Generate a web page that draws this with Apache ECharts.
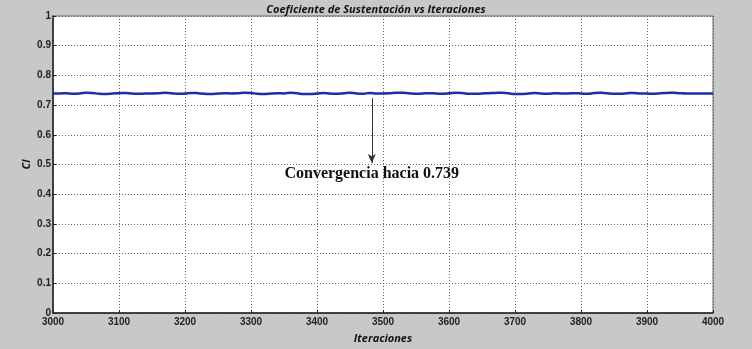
<!DOCTYPE html>
<html><head><meta charset="utf-8">
<script src="https://cdn.jsdelivr.net/npm/echarts@6/dist/echarts.min.js"></script>
<style>html,body{margin:0;padding:0;background:#c8c8c8;}#c{width:752px;height:349px;}</style>
</head><body><div id="c"></div>
<script>
const iterations = [3000,3010,3020,3030,3040,3050,3060,3070,3080,3090,3100,3110,3120,3130,3140,3150,3160,3170,3180,3190,3200,3210,3220,3230,3240,3250,3260,3270,3280,3290,3300,3310,3320,3330,3340,3350,3360,3370,3380,3390,3400,3410,3420,3430,3440,3450,3460,3470,3480,3490,3500,3510,3520,3530,3540,3550,3560,3570,3580,3590,3600,3610,3620,3630,3640,3650,3660,3670,3680,3690,3700,3710,3720,3730,3740,3750,3760,3770,3780,3790,3800,3810,3820,3830,3840,3850,3860,3870,3880,3890,3900,3910,3920,3930,3940,3950,3960,3970,3980,3990,4000];
const clValues = [.739,.739,.740,.738,.739,.742,.741,.738,.737,.739,.740,.741,.739,.738,.739,.739,.740,.742,.740,.738,.739,.741,.740,.738,.737,.739,.740,.739,.740,.742,.741,.738,.737,.739,.740,.739,.742,.740,.737,.737,.739,.741,.739,.738,.740,.742,.739,.738,.741,.739,.739,.740,.742,.742,.740,.738,.739,.740,.739,.738,.740,.742,.741,.738,.738,.739,.740,.741,.742,.740,.737,.737,.739,.741,.739,.738,.740,.739,.739,.740,.739,.738,.741,.742,.740,.738,.738,.740,.741,.739,.739,.738,.740,.741,.742,.740,.739,.739,.739,.739,.739];
const annotation = {x: 3483, yTop: 0.723, yBottom: 0.505, yText: 0.47, text: 'Convergencia hacia 0.739'};
const titleText = 'Coeficiente de Sustentación vs Iteraciones';

const chart = echarts.init(document.getElementById('c'));
const labelStyle = {color:'#222', fontFamily:'Liberation Sans, Arial', fontSize:10, fontWeight:'bold'};
chart.setOption({
  backgroundColor:'#c8c8c8',
  animation:false,
  title:{text:titleText, left:'center', top:-1, textStyle:{fontFamily:'Open Sans', fontStyle:'italic', fontWeight:'bold', fontSize:11, color:'#111'}},
  grid:{left:53, right:39, top:16, bottom:33, show:true, backgroundColor:'#fff', borderColor:'#666', borderWidth:1},
  xAxis:{type:'value', min:3000, max:4000, interval:100,
    name:'Iteraciones', nameLocation:'middle', nameGap:20, nameMoveOverlap:false,
    nameTextStyle:{fontFamily:'Open Sans', fontStyle:'italic', fontWeight:'bold', fontSize:11, color:'#111'},
    axisLine:{show:true, lineStyle:{color:'#222', width:1.5}},
    axisTick:{show:true, inside:true, length:3, lineStyle:{color:'#222'}},
    axisLabel:Object.assign({margin:4, formatter:v=>String(v)}, labelStyle),
    splitLine:{show:true, lineStyle:{type:[1,2], color:'#666', width:1}}},
  yAxis:{type:'value', min:0, max:1, interval:0.1,
    name:'Cl', nameLocation:'middle', nameGap:21, nameRotate:90, nameMoveOverlap:false,
    nameTextStyle:{fontFamily:'Open Sans', fontStyle:'italic', fontWeight:'bold', fontSize:11, color:'#111'},
    axisLine:{show:true, lineStyle:{color:'#222', width:1.5}},
    axisTick:{show:true, inside:true, length:3, lineStyle:{color:'#222'}},
    axisLabel:Object.assign({margin:2, formatter:v=>String(+v.toFixed(1))}, labelStyle),
    splitLine:{show:true, lineStyle:{type:[1,2], color:'#666', width:1}}},
  series:[{
    type:'line', data:iterations.map((x,i)=>[x,clValues[i]]), showSymbol:false, smooth:true,
    lineStyle:{color:'#1c2ea6', width:2.5},
    markLine:{silent:true, symbol:['none','arrow'], symbolSize:[6,9], label:{show:false},
      lineStyle:{color:'#333', type:'solid', width:1},
      data:[[{coord:[annotation.x, annotation.yTop]},{coord:[annotation.x, annotation.yBottom]}]]},
    markPoint:{silent:true, symbol:'circle', symbolSize:0,
      data:[{coord:[annotation.x, annotation.yText]}],
      label:{show:true, position:'inside', formatter:annotation.text, fontFamily:'Liberation Serif', fontWeight:'bold', fontSize:16, color:'#111'}}
  }]
});
</script></body></html>
